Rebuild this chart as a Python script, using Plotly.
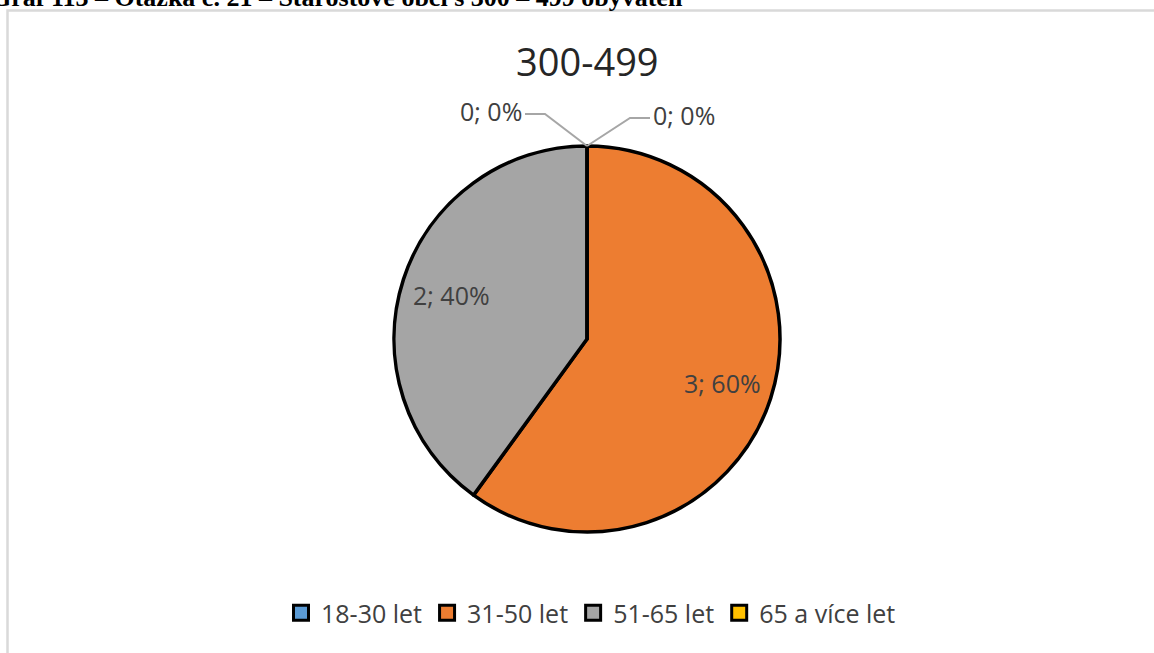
import math
import plotly.graph_objects as go

# ---- data ----
categories = ["18-30 let", "31-50 let", "51-65 let", "65 a více let"]
counts = [0, 3, 2, 0]
colors = ["#5B9BD5", "#ED7D31", "#A5A5A5", "#FFC000"]
chart_title = "300-499"
caption = "Graf 113 – Otázka č. 21 – Starostové obcí s 300 – 499 obyvateli"

W, H = 1154, 653
CX, CY, R = 587, 339, 193  # pie center / radius in pixels
LABEL_FONT = dict(family="Open Sans", size=25, color="#404040")


def px(x):
    return x / W


def py(y):
    return 1 - y / H


total = sum(counts)

fig = go.Figure()
fig.add_trace(go.Pie(
    labels=categories,
    values=counts,
    sort=False,
    direction="clockwise",
    rotation=0,
    marker=dict(colors=colors, line=dict(color="#000000", width=3.5)),
    textinfo="none",
    hoverinfo="label+value+percent",
    domain=dict(x=[px(CX - R), px(CX + R)], y=[py(CY + R), py(CY - R)]),
    showlegend=False,
))

# legend entries (square swatches with black outline)
for name, col in zip(categories, colors):
    fig.add_trace(go.Scatter(
        x=[None], y=[None], mode="markers", name=name,
        marker=dict(symbol="square", size=15, color=col, line=dict(color="#000000", width=3)),
        hoverinfo="skip", showlegend=True,
    ))

shapes = []
annotations = []

# data labels: non-zero slices inside along bisector, zero slices at pie top with leader lines
cum = 0.0
top_x, top_y = CX, CY - R
for i, v in enumerate(counts):
    frac = v / total if total else 0
    pct = round(100 * frac)
    txt = f"{v}; {pct}%"
    if v > 0:
        mid = 2 * math.pi * (cum + frac / 2)  # clockwise from 12 o'clock
        lx = CX + 0.74 * R * math.sin(mid)
        ly = CY - 0.74 * R * math.cos(mid)
        annotations.append(dict(x=px(lx), y=py(ly), xref="paper", yref="paper", text=txt,
                                showarrow=False, xanchor="center", yanchor="middle",
                                font=LABEL_FONT))
    else:
        if cum == 0:
            knee = (top_x + 43, top_y - 28)
            end = (knee[0] + 20, knee[1])
            anchor, tx = "left", end[0] + 1
        else:
            knee = (top_x - 42, top_y - 32)
            end = (knee[0] - 20, knee[1])
            anchor, tx = "right", end[0] - 1
        path = (f"M {px(top_x)} {py(top_y)} L {px(knee[0])} {py(knee[1])} "
                f"L {px(end[0])} {py(end[1])}")
        shapes.append(dict(type="path", xref="paper", yref="paper", path=path,
                           line=dict(color="#A6A6A6", width=2)))
        annotations.append(dict(x=px(tx), y=py(end[1] - 3), xref="paper", yref="paper",
                                text=txt, showarrow=False, xanchor=anchor, yanchor="middle",
                                font=LABEL_FONT))
    cum += frac

# chart title
annotations.append(dict(x=px(CX), y=py(61), xref="paper", yref="paper", text=chart_title,
                        showarrow=False, xanchor="center", yanchor="middle",
                        font=dict(family="Open Sans", size=38, color="#262626")))
# cropped document caption at the very top
annotations.append(dict(x=px(-11), y=py(-3), xref="paper", yref="paper", text=f"<b>{caption}</b>",
                        showarrow=False, xanchor="left", yanchor="middle",
                        font=dict(family="Liberation Serif", size=26, color="#000000")))

# chart-area border
shapes.append(dict(type="rect", xref="paper", yref="paper",
                   x0=px(7.5), y0=py(H + 10), x1=px(W + 10), y1=py(10.5),
                   line=dict(color="#D9D9D9", width=2.5), fillcolor="rgba(0,0,0,0)", layer="below"))

fig.update_layout(
    width=W, height=H,
    margin=dict(l=0, r=0, t=0, b=0),
    paper_bgcolor="#FFFFFF",
    plot_bgcolor="#FFFFFF",
    xaxis=dict(visible=False),
    yaxis=dict(visible=False),
    shapes=shapes,
    annotations=annotations,
    legend=dict(orientation="h", x=px(591), xanchor="center", y=py(613), yanchor="middle",
                font=dict(family="Open Sans", size=25, color="#404040"),
                itemclick=False, itemdoubleclick=False, traceorder="normal",
                bgcolor="rgba(0,0,0,0)"),
)

fig.write_html("out.html",
               config={"displayModeBar": False},
               post_script="document.body.style.margin='0';document.body.style.overflow='hidden';")
